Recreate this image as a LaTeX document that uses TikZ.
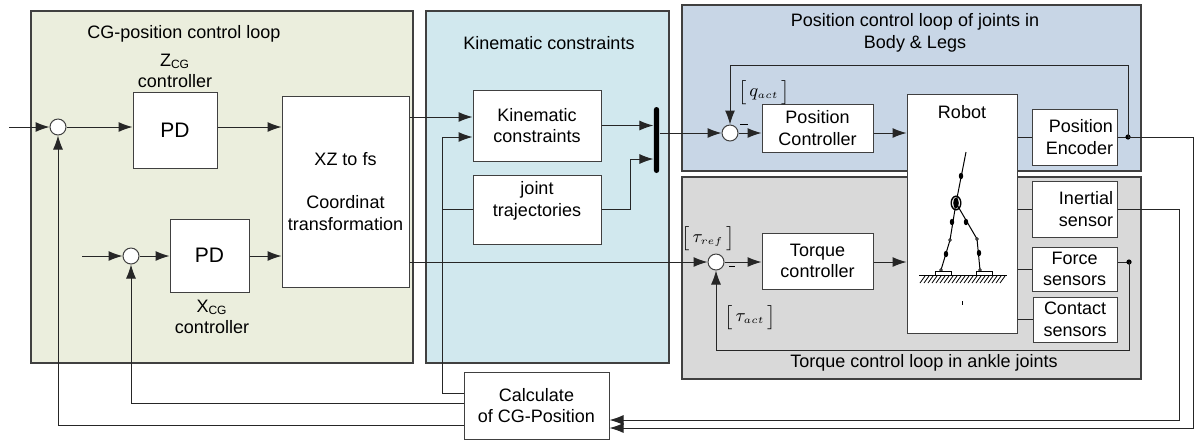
\documentclass[tikz,border=0pt]{standalone}
\usepackage{fontspec}
\setmainfont{Liberation Sans}
\usepackage{tikz}
\usetikzlibrary{shapes,arrows.meta,positioning}
\definecolor{loopgreen}{RGB}{235,238,221}
\definecolor{kinblue}{RGB}{209,232,238}
\definecolor{posblue}{RGB}{200,214,230}
\definecolor{torqgray}{RGB}{217,217,217}
\definecolor{linegray}{RGB}{64,64,64}
\tikzstyle{block} = [rectangle, draw=linegray, fill=white, align=center, inner sep=2pt]
\tikzstyle{sensor} = [block, text width=38.5pt, align=right, minimum height=28pt]
\tikzstyle{sum} = [circle, draw=linegray, fill=white, minimum size=8pt, inner sep=0pt]
\tikzstyle{panel} = [draw=linegray, line width=0.65pt]
\tikzstyle{sig} = [inner sep=0pt, align=center]
\tikzstyle{line} = [draw=black!85, -{Latex[length=7pt,width=5pt]}]
\tikzstyle{conn} = [draw=black!85]
\newcommand{\sbr}[2]{$\big[\,#1_{\scriptscriptstyle #2}\,\big]$}

\begin{document}
\begin{tikzpicture}[x=0.5pt, y=-0.5pt, line width=0.5pt, font=\fontsize{9}{10.8}\selectfont]
\useasboundingbox (0,0) rectangle (1198,441);

\draw[panel, fill=loopgreen] (31,11) rectangle (413,363);
\draw[panel, fill=kinblue] (426,11) rectangle (669,363);
\draw[panel, fill=posblue] (682,5) rectangle (1141,171);
\draw[panel, fill=torqgray] (682,177) rectangle (1141,379);

\node[sig] (cgtitle) at (184,34) {CG-position control loop};
\node[sig] (kintitle) at (549,43) {Kinematic constraints};
\node[sig] (postitle) at (915,33) {Position control loop of joints in\\Body \& Legs};
\node[sig] (torqtitle) at (924,363) {Torque control loop in ankle joints};

\node[sum] (sumz) at (58,127) {};
\node[sum] (sumx) at (131,256) {};
\node[block, minimum width=42pt, minimum height=38pt, font=\fontsize{10.5}{12}\selectfont] (pdz) at (175,130) {PD};
\node[block, minimum width=39.5pt, minimum height=36.5pt, font=\fontsize{10.5}{12}\selectfont] (pdx) at (209.5,255.5) {PD};
\node[sig] (zlabel) at (175,71) {Z\textsubscript{CG}\\controller};
\node[sig] (xlabel) at (212,317) {X\textsubscript{CG}\\controller};
\node[block, minimum width=63.5pt, minimum height=95.5pt] (xz) at (345.5,191.5) {XZ to fs\\[10.7pt]Coordinat\\transformation};

\node[block, minimum width=64pt, minimum height=35.5pt] (kin) at (537,125.5) {Kinematic\\constraints};
\node[block, minimum width=64pt, minimum height=34.5pt] (traj) at (537,209.5) {joint\\trajectories\\\mbox{}};
\node[fill=black, minimum width=2.6pt, minimum height=33pt, inner sep=0pt, rounded corners=1.3pt] (bus) at (656.5,140) {};

\node[sum] (sumq) at (730,133) {};
\node[sum] (sumt) at (716,262) {};
\node[block, minimum width=55.5pt, minimum height=24pt] (posctrl) at (817.5,128) {Position\\Controller};
\node[block, minimum width=55.5pt, minimum height=28pt] (torq) at (817.5,261) {Torque\\controller};
\node[block, minimum width=55pt, minimum height=119.5pt] (robot) at (962,213.5) {};
\node[sig] (robotlbl) at (962,112) {Robot};
\node[sensor] (enc) at (1074.5,137) {Position\\Encoder};
\node[sensor] (inert) at (1074.5,209) {Inertial\\sensor};
\node[block, minimum width=42.5pt, minimum height=22pt] (force) at (1074.5,269) {Force\\sensors};
\node[block, minimum width=42pt, minimum height=22.5pt] (contact) at (1075,319.5) {Contact\\sensors};
\node[block, minimum width=72.5pt, minimum height=33.5pt] (calc) at (536.5,405.5) {Calculate\\of CG-Position};

\node[sig] (qact) at (764,92) {\sbr{q}{act}};
\node[sig] (tref) at (708,238) {\sbr{\tau}{ref}};
\node[sig] (tact) at (750,317) {\sbr{\tau}{act}};
\draw (740,124) -- (748,124);
\draw (729,266) -- (735,266);

\coordinate (inz) at (9,127);
\coordinate (inx) at (82,256);
\coordinate (kinA) at ([yshift=4.25pt]kin.west);
\coordinate (kinB) at ([yshift=-5.75pt]kin.west);
\coordinate (fbk) at (442,393);
\coordinate (fbx) at (131,403);
\coordinate (fbz) at (58,425);
\coordinate (trajup) at (630,159);
\coordinate (encdot) at (1128,137);
\coordinate (frcdot) at (1129,262);
\coordinate (posfb) at (1128,65);
\coordinate (torqfb) at (1129,350);
\coordinate (inrt) at (1179,420);
\coordinate (encout) at (1193,428);

\path [line] (inz) -- (sumz.west);
\path [line] (sumz.east) -- (sumz -| pdz.west);
\path [line] (pdz.east |- sumz) -- (sumz -| xz.west);
\path [line] (inx) -- (sumx.west);
\path [line] (sumx.east) -- (sumx -| pdx.west);
\path [line] (pdx.east |- sumx) -- (sumx -| xz.west);
\path [line] (kinA -| xz.east) -- (kinA);
\path [line] (xz.east |- sumt) -- (sumt.west);
\path [line] (fbk -| calc.west) -- (fbk) |- (kinB);
\path [conn] (traj.west) -- (traj.west -| fbk);
\path [line] (fbx -| calc.west) -- (fbx) -- (sumx.south);
\path [line] (fbz -| calc.west) -- (fbz) -- (sumz.south);
\path [line] (kin.east) -- (kin.east -| bus.west);
\path [line] (traj.east) -| (trajup) -- (trajup -| bus.west);
\path [line] (bus.east |- sumq) -- (sumq.west);

\path [line] (sumq.east) -- (sumq -| posctrl.west);
\path [line] (posctrl.east |- sumq) -- (sumq -| robot.west);
\path [line] (sumt.east) -- (sumt -| torq.west);
\path [line] (torq.east |- sumt) -- (sumt -| robot.west);
\path [conn] (robot.east |- enc) -- (enc.west);
\path [conn] (robot.east |- inert) -- (inert.west);
\path [conn] (robot.east |- force) -- (force.west);
\path [conn] (robot.east |- contact) -- (contact.west);
\path [conn] (enc.east) -- (encdot);
\path [conn] (frcdot -| force.east) -- (frcdot);
\fill (encdot) circle (1.3pt);
\fill (frcdot) circle (1.3pt);
\path [line] (encdot) -- (posfb) -| (sumq.north);
\path [line] (frcdot) -- (torqfb) -| (sumt.south);
\path [line] (inert.east) -| (inrt) -- (inrt -| calc.east);
\path [line] (encdot) -| (encout) -- (encout -| calc.east);

\draw (966,152) -- (956,203) -- (950,240) -- (941,270);
\draw (956,203) -- (977,239) -- (980,270);
\foreach \p in {(961,176),(952,222),(966,222),(946,254),(979,253)}
  \fill \p ellipse (1.1pt and 1.6pt);
\foreach \p in {(950,240),(977,239),(941,270),(980,270)}
  \draw[fill=white, line width=0.4pt] \p circle (0.7pt);
\draw[line width=0.7pt] (956,203) ellipse (2.4pt and 3.4pt);
\fill (956,203) ellipse (1.4pt and 2.8pt);
\draw (935,271) rectangle (951,275);
\draw (976,271) rectangle (992,275);
\draw (919,275) -- (1007,275);
\foreach \x in {925,929,...,1005}
  \draw[line width=0.4pt] (\x,276) -- (\x-5,283);
\draw (962,301) -- (962,305);
\end{tikzpicture}
\end{document}
